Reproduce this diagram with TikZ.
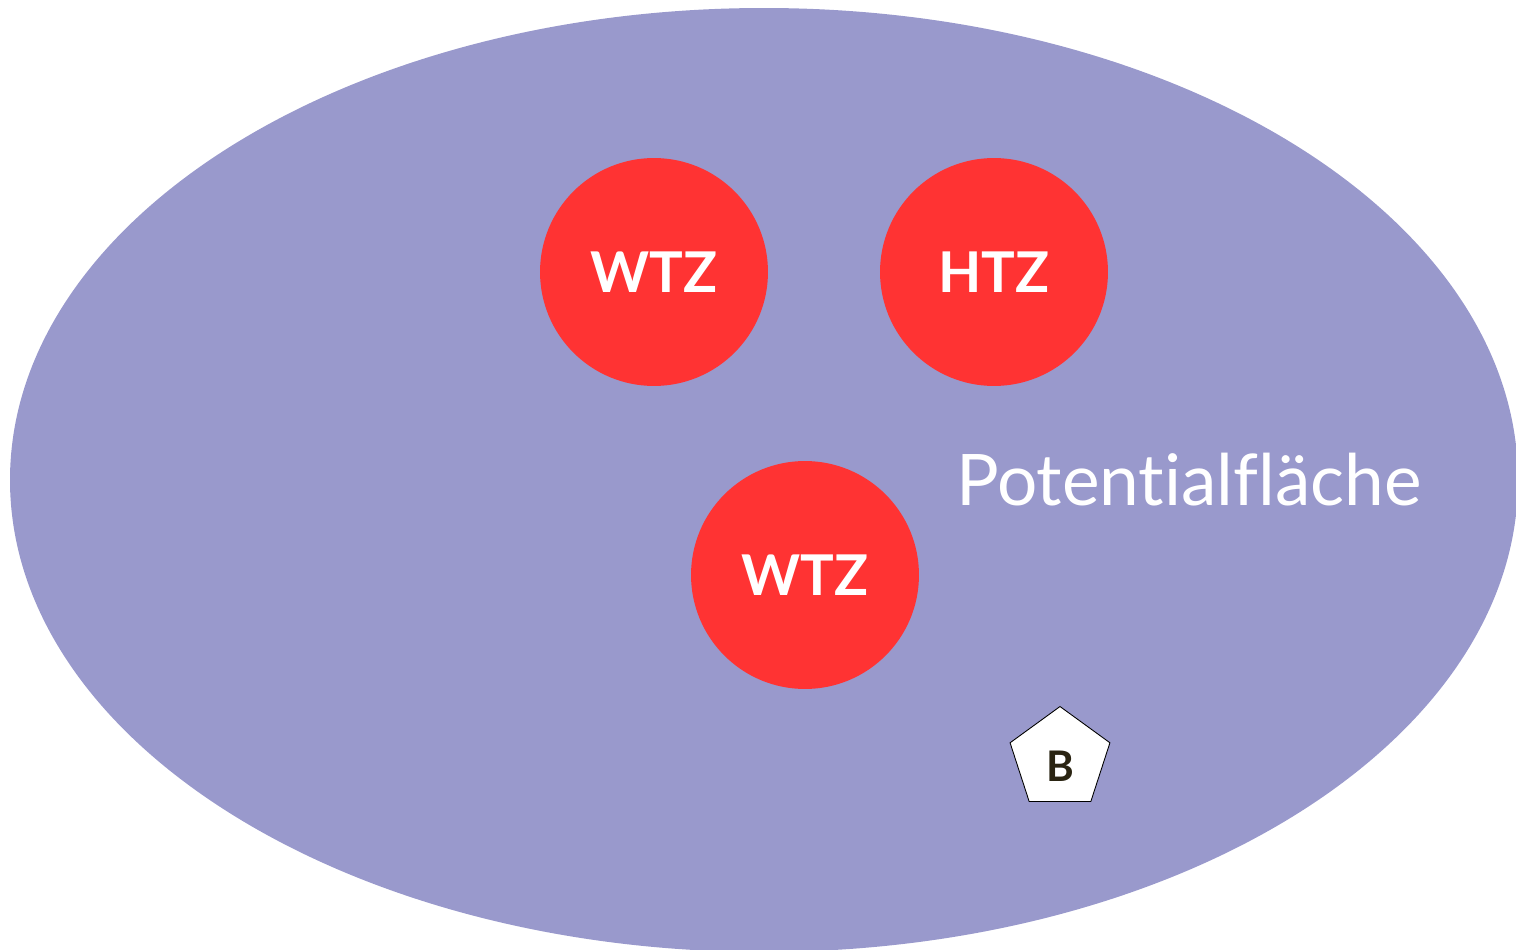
\documentclass[tikz,border=0pt]{standalone}
\usepackage{fontspec}
\setmainfont[Ligatures={NoCommon}]{Lato}
\usepackage{tikz}
\usetikzlibrary{shapes.geometric}

\definecolor{flaeche}{HTML}{9999CC}
\definecolor{zentrum}{HTML}{FF3333}
\definecolor{dunkel}{HTML}{2A2412}

\tikzset{
	zone/.style={circle, fill=zentrum, minimum size=4.56cm, inner sep=0pt,
		text=white, font=\fontsize{32}{32}\selectfont\bfseries},
	bau/.style={regular polygon, regular polygon sides=5, draw=black, fill=white,
		line width=0.5pt, minimum size=2.1cm, inner sep=0pt,
		text=dunkel, font=\fontsize{24}{24}\selectfont\bfseries}
}

\begin{document}
\begin{tikzpicture}[x=0.02cm,y=-0.02cm]
	\useasboundingbox (0,0) rectangle (1516,950);
	\clip (0,0) rectangle (1516,950);
	\fill[flaeche] (764,480) ellipse (754 and 472);
	
	\node[zone] (wtz1) at (654,272) {WTZ};
	\node[zone] (htz) at (994,272) {HTZ};
	\node[zone] (wtz2) at (805,575) {WTZ};
	
	\node[bau] (b) at (1060,759) {\smash{\raisebox{-12.7pt}{B}}};
	\node[text=white, font=\fontsize{40.5}{40.5}\selectfont] (pot) at (1189,480) {Potentialfläche};
\end{tikzpicture}
\end{document}
